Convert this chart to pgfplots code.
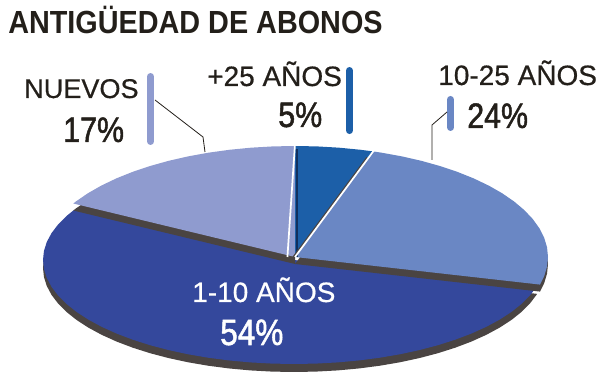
\documentclass[border=0pt]{standalone}
\usepackage{pgfplots}
\pgfplotsset{compat=1.18}
\usepackage{fontspec}
\setmainfont{Liberation Sans}
\newfontfamily\titlefont[FakeStretch=0.9]{Liberation Sans}
\newfontfamily\labfont[FakeBold=0.6]{Liberation Sans}
\newfontfamily\pctfont[FakeStretch=0.86,FakeBold=1.4]{Liberation Sans}
\definecolor{cA}{HTML}{1C5FA8}   % +25
\definecolor{cB}{HTML}{6A87C4}   % 10-25
\definecolor{cC}{HTML}{34489C}   % 1-10
\definecolor{cD}{HTML}{8F9BCF}   % nuevos
\definecolor{cdark}{HTML}{4A4442}
\definecolor{cnavy}{HTML}{12305E}
\definecolor{ctext}{HTML}{231F1A}
\pgfplotsset{pieax/.style={scale only axis, width=450pt, height=291pt, hide axis, clip=false, at={(0,0)}, anchor=south west}}
\begin{document}
\begin{tikzpicture}
\useasboundingbox (0,0) rectangle (450pt,291pt);
% ---- front wedge 1-10 (54%)
\begin{axis}[pieax, xmin=-1.17131, xmax=1.21912, ymin=-1.23077, ymax=2.5]
\addplot[fill=cdark, draw=none, data cs=polar, yshift=-6pt] coordinates {(0,0) (151.2,1) (155,1) (160,1) (165,1) (170,1) (175,1) (180,1) (185,1) (190,1) (195,1) (200,1) (205,1) (210,1) (215,1) (220,1) (225,1) (230,1) (235,1) (240,1) (245,1) (250,1) (255,1) (260,1) (265,1) (270,1) (275,1) (280,1) (285,1) (290,1) (295,1) (300,1) (305,1) (310,1) (315,1) (320,1) (325,1) (330,1) (335,1) (340,1) (345,1) (345.6,1)};
\addplot[fill=cC, draw=none, data cs=polar] coordinates {(0,0) (151.2,1) (155,1) (160,1) (165,1) (170,1) (175,1) (180,1) (185,1) (190,1) (195,1) (200,1) (205,1) (210,1) (215,1) (220,1) (225,1) (230,1) (235,1) (240,1) (245,1) (250,1) (255,1) (260,1) (265,1) (270,1) (275,1) (280,1) (285,1) (290,1) (295,1) (300,1) (305,1) (310,1) (315,1) (320,1) (325,1) (330,1) (335,1) (340,1) (345,1) (345.6,1)};
\end{axis}
% ---- back wedges
\begin{axis}[pieax, xmin=-1.16601, xmax=1.20553, ymin=-1.18018, ymax=2.31532]
% side walls
\addplot[fill=cdark, draw=none, data cs=polar, yshift=-5.25pt] coordinates {(0,0) (90,1) (95,1) (100,1) (105,1) (110,1) (115,1) (120,1) (125,1) (130,1) (135,1) (140,1) (145,1) (150,1) (151.2,1)};
\addplot[fill=cdark, draw=none, data cs=polar, yshift=-5.25pt] coordinates {(0,0) (-14.4,1) (-10,1) (-5,1) (0,1) (5,1) (10,1) (15,1) (20,1) (25,1) (30,1) (35,1) (40,1) (45,1) (50,1) (55,1) (60,1) (65,1) (70,1) (72,1)};
% tops
\addplot[fill=cD, draw=none, data cs=polar] coordinates {(0,0) (90,1) (95,1) (100,1) (105,1) (110,1) (115,1) (120,1) (125,1) (130,1) (135,1) (140,1) (145,1) (150,1) (151.2,1)};
\addplot[fill=cB, draw=none, data cs=polar] coordinates {(0,0) (-14.4,1) (-10,1) (-5,1) (0,1) (5,1) (10,1) (15,1) (20,1) (25,1) (30,1) (35,1) (40,1) (45,1) (50,1) (55,1) (60,1) (65,1) (70,1) (72,1)};
\addplot[fill=cA, draw=none, data cs=polar] coordinates {(0,0) (72,1) (75,1) (80,1) (85,1) (90,1)};
% edges
\addplot[cnavy, line width=1.1pt, data cs=polar, xshift=1.4pt] coordinates {(0,0) (90,0.97)};
\addplot[cdark, line width=1.3pt, data cs=polar, xshift=-1.6pt, yshift=-0.6pt] coordinates {(0,0) (72,0.95)};
\addplot[white, line width=1.3pt, data cs=polar] coordinates {(0,-0.03) (90,1.02)};
\addplot[white, line width=1.3pt, data cs=polar] coordinates {(0,0) (72,1.02)};
\end{axis}
% ---- title and labels
\node[anchor=base west, inner sep=0, text=ctext, font=\titlefont\bfseries\fontsize{24}{28}\selectfont] at (6pt,265.5pt) {ANTIGÜEDAD DE ABONOS};
\node[anchor=base west, inner sep=0, text=ctext, font=\labfont\fontsize{20.3}{24}\selectfont] at (18pt,217.5pt) {NUEVOS};
\node[anchor=base west, inner sep=0, text=ctext, font=\pctfont\fontsize{26.5}{30}\selectfont] at (47.25pt,184.5pt) {17\%};
\node[anchor=base west, inner sep=0, text=ctext, font=\labfont\fontsize{21}{24}\selectfont] at (155.25pt,226.5pt) {+25 AÑOS};
\node[anchor=base west, inner sep=0, text=ctext, font=\pctfont\fontsize{26.5}{30}\selectfont] at (208.5pt,195.75pt) {5\%};
\node[anchor=base west, inner sep=0, text=ctext, font=\labfont\fontsize{21}{24}\selectfont] at (328.5pt,227.25pt) {10-25 AÑOS};
\node[anchor=base west, inner sep=0, text=ctext, font=\pctfont\fontsize{26.5}{30}\selectfont] at (350.25pt,195pt) {24\%};
\node[anchor=base west, inner sep=0, text=white, font=\labfont\fontsize{21}{24}\selectfont] at (144pt,64.5pt) {1-10 AÑOS};
\node[anchor=base west, inner sep=0, text=white, font=\pctfont\fontsize{27.5}{30}\selectfont] at (165pt,32.25pt) {54\%};
% ---- label bars and leader lines
\draw[cD, line width=5.25pt, line cap=round] (112.9pt,233.6pt) -- (112.9pt,184.9pt);
\draw[cA, line width=5.25pt, line cap=round] (262.1pt,238.1pt) -- (262.1pt,193.1pt);
\draw[cB, line width=5.25pt, line cap=round] (337.9pt,216.4pt) -- (337.9pt,195.4pt);
\draw[ctext, line width=0.6pt] (116.25pt,216pt) -- (152.25pt,188.25pt) -- (153.75pt,177pt);
\draw[ctext, line width=0.6pt] (335.25pt,207pt) -- (324pt,197.25pt) -- (324pt,171pt);
\end{tikzpicture}
\end{document}
